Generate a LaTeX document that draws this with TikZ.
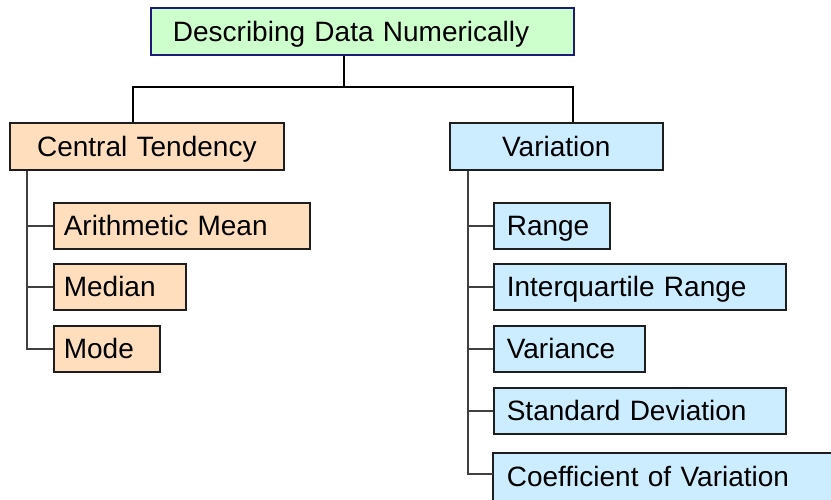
\documentclass[tikz,border=0pt]{standalone}
\usepackage{fontspec}
\setmainfont{Liberation Sans}
\definecolor{rootfill}{HTML}{CCFFCC}
\definecolor{rootline}{HTML}{1C1C78}
\definecolor{ctfill}{HTML}{FFDEBD}
\definecolor{varfill}{HTML}{CCECFF}
\definecolor{boxline}{HTML}{1E1E1E}
\definecolor{twigline}{HTML}{404040}
\begin{document}
\begin{tikzpicture}[x=1pt,y=-1pt,
  box/.style={draw=boxline, line width=1.6pt, anchor=north west,
    font=\fontsize{28}{30}\selectfont, text height=20pt, text depth=0pt,
    inner ysep=0pt, align=left},
  rootbox/.style={box, draw=rootline, line width=1.8pt, fill=rootfill,
    minimum height=47pt, inner xsep=22pt},
  headbox/.style={box, minimum height=47pt, align=center, inner xsep=10pt},
  ctbox/.style={box, fill=ctfill, minimum height=46pt, inner xsep=10pt},
  varbox/.style={box, fill=varfill, minimum height=46pt, inner xsep=13pt},
  edge/.style={draw=boxline, line width=1.6pt},
  trunk/.style={line width=2pt, black},
  twig/.style={line width=1.5pt, twigline}]
\useasboundingbox (0,0) rectangle (831,499);
\clip (0,0) rectangle (831,499);

% root
\node[rootbox, text width=379pt] (top) at (150,7) {Describing Data Numerically};

% the two branches
\node[headbox, fill=ctfill, text width=254pt] (ct) at (9,122) {Central Tendency};
\node[headbox, fill=varfill, text width=193pt] (var) at (449,122) {Variation};

% central tendency measures
\node[ctbox, text width=236pt] (am) at (53,202) {Arithmetic Mean};
\node[ctbox, text width=112pt] (med) at (53,263) {Median};
\node[ctbox, text width=86pt] (mode) at (53,325) {Mode};

% variation measures
\node[varbox, text width=90pt] (rng) at (493,202) {Range};
\node[varbox, text width=266pt] (iqr) at (493,263) {Interquartile Range};
\node[varbox, text width=125pt] (vnc) at (493,325) {Variance};
\node[varbox, text width=266pt] (sd) at (493,387) {Standard Deviation};
% the last box runs past the right and bottom edges: only its
% top and left edges are drawn
\node[varbox, draw=none, text width=400pt, text depth=14pt, minimum height=60pt] (cv) at (493,453) {Coefficient of Variation};
\draw[edge] (cv.south west) -- (cv.north west) -- (cv.north east);

% junction points of the connectors
\coordinate (jm) at (344,87);
\coordinate (jl) at (133,87);
\coordinate (jr) at (573,87);
\coordinate (tl) at (27,0);
\coordinate (tr) at (468,0);
\coordinate (cvin) at (493,474);

% root to branches
\draw[trunk] (top.south -| jm) -- (jm);
\draw[trunk] (ct.north -| jl) -- (jl) -- (jr) -- (var.north -| jr);

% branch trees
\draw[twig] (ct.south -| tl) |- (mode.west);
\draw[twig] (tl |- am.west) -- (am.west);
\draw[twig] (tl |- med.west) -- (med.west);

\draw[twig] (var.south -| tr) |- (cvin);
\draw[twig] (tr |- rng.west) -- (rng.west);
\draw[twig] (tr |- iqr.west) -- (iqr.west);
\draw[twig] (tr |- vnc.west) -- (vnc.west);
\draw[twig] (tr |- sd.west) -- (sd.west);
\end{tikzpicture}
\end{document}
